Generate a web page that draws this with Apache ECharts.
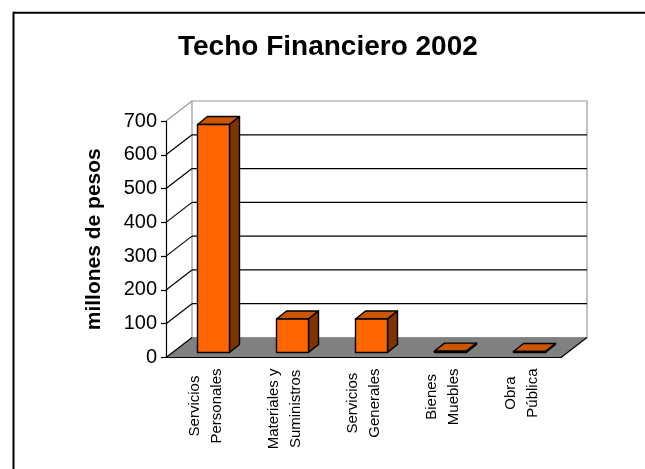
<!DOCTYPE html>
<html>
<head>
<meta charset="utf-8">
<script src="https://cdn.jsdelivr.net/npm/echarts@6/dist/echarts.min.js"></script>
<style>
  html, body { margin: 0; padding: 0; background: #fff; }
  #main { width: 645px; height: 469px; }
</style>
</head>
<body>
<div id="main"></div>
<script>
// datos
var categories = ["Servicios\nPersonales", "Materiales y\nSuministros", "Servicios\nGenerales", "Bienes\nMuebles", "Obra\nPública"];
var values = [675, 99, 99, 4, 3];
var yTicks = [0, 100, 200, 300, 400, 500, 600, 700];

var FONT = "Liberation Sans";
var DEPTH_X = 26, DEPTH_Y = -20; // profundidad de la pared del fondo
var BAR_DX = 10, BAR_DY = -8;    // profundidad de cada barra

var chart = echarts.init(document.getElementById("main"));

function renderWalls(params, api) {
  var cs = params.coordSys;
  var x0 = cs.x, x1 = cs.x + cs.width;
  var yZero = api.coord([0, yTicks[0]])[1];
  var yTop = api.coord([0, yTicks[yTicks.length - 1]])[1];
  var children = [];
  // pared del fondo
  children.push({
    type: "rect",
    shape: { x: x0 + DEPTH_X, y: yTop + DEPTH_Y, width: x1 - x0, height: yZero - yTop },
    style: { fill: "#fff", stroke: "#999", lineWidth: 1.2 }
  });
  // piso
  children.push({
    type: "polygon",
    shape: { points: [[x0, yZero], [x1, yZero], [x1 + DEPTH_X, yZero + DEPTH_Y], [x0 + DEPTH_X, yZero + DEPTH_Y]] },
    style: { fill: "#808080", stroke: "none" }
  });
  children.push({
    type: "line",
    shape: { x1: x1, y1: yZero, x2: x1 + DEPTH_X, y2: yZero + DEPTH_Y },
    style: { stroke: "#000", lineWidth: 1.2 }
  });
  // lineas de la cuadricula
  yTicks.forEach(function (v, i) {
    var y = api.coord([0, v])[1];
    var last = i === yTicks.length - 1;
    var color = last ? "#999" : "#000";
    children.push({
      type: "line",
      shape: { x1: x0, y1: y, x2: x0 + DEPTH_X, y2: y + DEPTH_Y },
      style: { stroke: color, lineWidth: 1.2 }
    });
    if (i > 0 && !last) {
      children.push({
        type: "line",
        shape: { x1: x0 + DEPTH_X, y1: y + DEPTH_Y, x2: x1 + DEPTH_X, y2: y + DEPTH_Y },
        style: { stroke: "#000", lineWidth: 1.2 }
      });
    }
  });
  return { type: "group", children: children };
}

function renderBar(params, api) {
  var c = api.coord([api.value(0), api.value(1)]);
  var base = api.coord([api.value(0), 0]);
  var l = c[0] - 8, r = c[0] + 24;
  var t = c[1] - 5, b = base[1] - 5;
  var line = { stroke: "#000", lineWidth: 1.4, lineJoin: "round" };
  return {
    type: "group",
    children: [
      {
        type: "polygon",
        shape: { points: [[l, t], [r, t], [r + BAR_DX, t + BAR_DY], [l + BAR_DX, t + BAR_DY]] },
        style: Object.assign({ fill: "#CC5500" }, line)
      },
      {
        type: "polygon",
        shape: { points: [[r, t], [r + BAR_DX, t + BAR_DY], [r + BAR_DX, b + BAR_DY], [r, b]] },
        style: Object.assign({ fill: "#7F3300" }, line)
      },
      {
        type: "rect",
        shape: { x: l, y: t, width: r - l, height: b - t },
        style: Object.assign({ fill: "#FF6600" }, line)
      }
    ]
  };
}

var option = {
  backgroundColor: "#fff",
  animation: false,
  title: {
    text: "Techo Financiero 2002",
    left: 178,
    top: 33,
    padding: 0,
    textStyle: { fontFamily: FONT, fontSize: 28, fontWeight: "bold", color: "#000" }
  },
  graphic: [
    { type: "line", shape: { x1: 13.5, y1: 12.7, x2: 645, y2: 12.7 }, style: { stroke: "#000", lineWidth: 2 } },
    { type: "line", shape: { x1: 13.5, y1: 11.7, x2: 13.5, y2: 469 }, style: { stroke: "#000", lineWidth: 2 } }
  ],
  grid: { left: 166, top: 121, width: 395, bottom: 111.5 },
  xAxis: {
    type: "category",
    data: categories,
    z: 5,
    axisLine: { lineStyle: { color: "#000", width: 1.2 } },
    axisTick: { length: 7, lineStyle: { color: "#000", width: 1.2 } },
    splitLine: { show: false },
    axisLabel: {
      interval: 0,
      rotate: 90,
      margin: 11,
      fontFamily: FONT,
      fontSize: 15,
      color: "#000",
      formatter: function (value) {
        return value.split("\n").map(function (s) { return "{c|" + s + "}"; }).join("\n");
      },
      rich: {
        c: { align: "center", lineHeight: 22, fontFamily: FONT, fontSize: 15, color: "#000" }
      }
    }
  },
  yAxis: {
    type: "value",
    min: 0,
    max: 700,
    interval: 100,
    z: 5,
    name: "millones de pesos",
    nameLocation: "middle",
    nameRotate: 90,
    nameGap: 61,
    nameTextStyle: { fontFamily: FONT, fontSize: 21, fontWeight: "bold", color: "#000" },
    axisLine: { show: true, lineStyle: { color: "#000", width: 1.2 } },
    axisTick: { show: true, length: 5, lineStyle: { color: "#000", width: 1.2 } },
    splitLine: { show: false },
    axisLabel: { margin: 9, fontFamily: FONT, fontSize: 20, color: "#000" }
  },
  series: [
    {
      type: "custom",
      name: "walls",
      z: 1,
      silent: true,
      renderItem: renderWalls,
      data: [[0, 0]]
    },
    {
      type: "custom",
      name: "Techo Financiero",
      z: 2,
      renderItem: renderBar,
      data: values.map(function (v, i) { return [i, v]; })
    }
  ]
};

chart.setOption(option);
</script>
</body>
</html>
